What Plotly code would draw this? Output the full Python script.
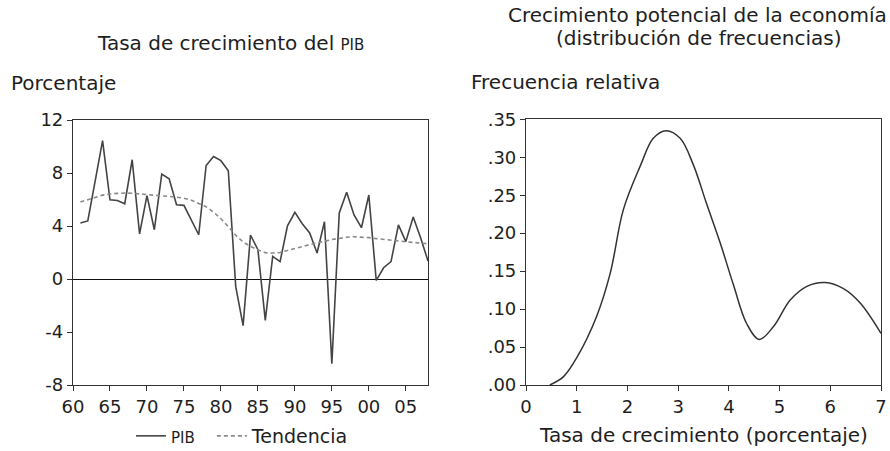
import plotly.graph_objects as go

# ---------------- data ----------------
years = list(range(1961, 2009))
pib = [4.23, 4.38, 7.4, 10.44, 5.98, 5.93, 5.68, 9.0, 3.4, 6.29,
       3.72, 7.92, 7.57, 5.6, 5.56, 4.4, 3.34, 8.57, 9.25, 8.93,
       8.17, -0.56, -3.52, 3.32, 2.21, -3.12, 1.71, 1.31, 4.02, 5.03,
       4.17, 3.47, 1.96, 4.32, -6.39, 4.98, 6.54, 4.83, 3.87, 6.34,
       -0.1, 0.85, 1.31, 4.08, 2.82, 4.68, 3.12, 1.36]
tendencia = [5.81, 6.0, 6.19, 6.33, 6.42, 6.47, 6.49, 6.47, 6.41, 6.34,
             6.30, 6.27, 6.24, 6.19, 6.10, 5.95, 5.70, 5.45, 5.05, 4.55,
             3.95, 3.30, 2.80, 2.46, 2.20, 1.98, 1.96, 2.00, 2.15, 2.32,
             2.45, 2.60, 2.70, 2.85, 2.98, 3.08, 3.15, 3.19, 3.18, 3.12,
             3.05, 2.98, 2.92, 2.87, 2.81, 2.76, 2.71, 2.66]

dens_x = [0.47, 0.74, 1.01, 1.39, 1.66, 1.92, 2.25, 2.51, 2.76, 3.04,
          3.30, 3.56, 3.83, 4.09, 4.35, 4.60, 4.88, 5.21, 5.54, 5.90,
          6.26, 6.59, 7.0]
dens_y = [0.0, 0.011, 0.037, 0.090, 0.147, 0.231, 0.288, 0.325, 0.335, 0.325,
          0.290, 0.239, 0.187, 0.132, 0.081, 0.060, 0.077, 0.112, 0.130, 0.135,
          0.127, 0.108, 0.068]

left_xticks = [1960, 1965, 1970, 1975, 1980, 1985, 1990, 1995, 2000, 2005]
left_xlabels = ["60", "65", "70", "75", "80", "85", "90", "95", "00", "05"]
left_yticks = [-8, -4, 0, 4, 8, 12]
left_ylabels = ["-8", "-4", "0", "4", "8", "12"]
right_xticks = [0, 1, 2, 3, 4, 5, 6, 7]
right_yticks = [0.0, 0.05, 0.10, 0.15, 0.20, 0.25, 0.30, 0.35]
right_ylabels = [".00", ".05", ".10", ".15", ".20", ".25", ".30", ".35"]

FONT = "DejaVu Sans"
TXT = "#1e1e1e"
W, H = 890, 451
FS_TICK = 18
FS_TXT = 20

fig = go.Figure()
fig.add_trace(go.Scatter(x=years, y=pib, mode="lines",
                         name="<span style='font-size:15px'>PIB</span>&nbsp;&nbsp;",
                         line=dict(color="#444444", width=1.6), xaxis="x", yaxis="y"))
fig.add_trace(go.Scatter(x=years, y=tendencia, mode="lines", name="Tendencia",
                         line=dict(color="#8a8a8a", width=1.6, dash="4px,3px"), xaxis="x", yaxis="y"))
fig.add_trace(go.Scatter(x=dens_x, y=dens_y, mode="lines", line_shape="spline", showlegend=False,
                         line=dict(color="#333333", width=1.5), xaxis="x2", yaxis="y2"))

axis_common = dict(showgrid=False, showline=True, linecolor="#333333", linewidth=1.2, mirror=True,
                   ticks="outside", ticklen=5, tickcolor="#333333", tickwidth=1, automargin=False,
                   tickfont=dict(family=FONT, size=FS_TICK, color=TXT))

fig.update_layout(
    width=W, height=H,
    margin=dict(l=0, r=0, t=0, b=0, autoexpand=False),
    paper_bgcolor="white", plot_bgcolor="white",
    font=dict(family=FONT, color=TXT),
    showlegend=True,
    legend=dict(orientation="h", x=242.5/W, xanchor="center", y=1-436/H, yanchor="middle",
                font=dict(family=FONT, size=19, color=TXT), bgcolor="rgba(0,0,0,0)",
                itemwidth=30, tracegroupgap=0),
    xaxis=dict(domain=[73/W, 428/W], range=[1960, 2008], tickvals=left_xticks, ticktext=left_xlabels,
               zeroline=False, anchor="y", **axis_common),
    yaxis=dict(domain=[1-385/H, 1-120/H], range=[-8, 12], tickvals=left_yticks, ticktext=left_ylabels,
               zeroline=True, zerolinecolor="#111111", zerolinewidth=1.2, anchor="x", **axis_common),
    xaxis2=dict(domain=[526/W, 881/W], range=[0, 7], tickvals=right_xticks,
                zeroline=False, anchor="y2", **axis_common),
    yaxis2=dict(domain=[1-385/H, 1-119.3/H], range=[0, 0.35], tickvals=right_yticks, ticktext=right_ylabels,
                zeroline=False, anchor="x2", **axis_common),
)

annots = [
    dict(text="Tasa de crecimiento del <span style='font-size:15px'>PIB</span>", x=230/W, y=1-43/H,
         xanchor="center", yanchor="middle"),
    dict(text="Porcentaje", x=9/W, y=1-83/H, xanchor="left", yanchor="middle"),
    dict(text="Crecimiento potencial de la economía", x=697/W, y=1-15/H,
         xanchor="center", yanchor="middle"),
    dict(text="(distribución de frecuencias)", x=698/W, y=1-38/H,
         xanchor="center", yanchor="middle"),
    dict(text="Frecuencia relativa", x=469/W, y=1-82/H, xanchor="left", yanchor="middle"),
    dict(text="Tasa de crecimiento (porcentaje)", x=703/W, y=1-435/H, xanchor="center", yanchor="middle"),
]
for a in annots:
    a.update(xref="paper", yref="paper", showarrow=False, font=dict(family=FONT, size=FS_TXT, color=TXT))
fig.update_layout(annotations=annots)

fig.write_html("out.html", config={"displayModeBar": False},
               post_script="document.body.style.margin='0';document.body.style.padding='0';")
